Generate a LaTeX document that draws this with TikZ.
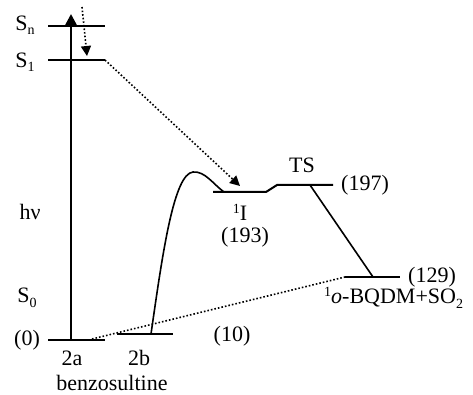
\documentclass[tikz,border=0pt]{standalone}
\usepackage{fontspec}
\setmainfont{Liberation Serif}
\usetikzlibrary{arrows.meta}
\newcommand\lowsub[1]{\raisebox{-0.45ex}{\fontsize{14}{14}\selectfont #1}}
\newcommand\highsup[1]{\raisebox{0.7ex}{\fontsize{14}{14}\selectfont #1}}
\begin{document}
\begin{tikzpicture}[x=1pt,y=-1pt,
  lvl/.style={line width=2pt},
  conn/.style={line width=1.6pt},
  dots/.style={dotted, line width=1.6pt},
  lbl/.style={font=\fontsize{22}{24}\selectfont, inner sep=0pt}]
\useasboundingbox (0,0) rectangle (473,395);
% level coordinates
\coordinate (snL) at (48,26);  \coordinate (snR) at (105,26);
\coordinate (s1L) at (48,60);  \coordinate (s1R) at (105,60);
\coordinate (aL) at (48,340);  \coordinate (aR) at (105,340);
\coordinate (bL) at (117,334); \coordinate (bR) at (173,334);
\coordinate (iL) at (213,192); \coordinate (iR) at (266,192);
\coordinate (tL) at (277,185); \coordinate (tR) at (333,185);
\coordinate (pL) at (345,277); \coordinate (pR) at (400,277);
\coordinate (vB) at (71,340);  \coordinate (vT) at (71,14);
\coordinate (bM) at (151,334);
\coordinate (iM) at (224,192);
\coordinate (tM) at (310,185);
\coordinate (pM) at (373,277);
\coordinate (aD) at (92,339);
\coordinate (dA) at (82,7);   \coordinate (dB) at (87,56);
\coordinate (arrTip) at (240,186);
% levels
\draw[lvl] (snL) -- (snR);
\draw[lvl] (s1L) -- (s1R);
\draw[lvl] (aL) -- (aR);
\draw[lvl] (bL) -- (bR);
\draw[lvl] (iL) -- (iR) -- (tL) -- (tR);
\draw[lvl] (pL) -- (pR);
% excitation arrow
\draw[line width=2.4pt, -{Triangle[length=11pt,width=11pt]}] (vB) -- (vT);
% internal conversion
\draw[dots, -{Triangle[length=10pt,width=10pt]}] (dA) -- (dB);
\draw[dots, -{Triangle[length=10pt,width=10pt]}] (s1R) -- (arrTip);
% ground-state path
\draw[dots] (aD) -- (pL);
% curve from 2b to 1I
\draw[conn] (bM) .. controls (163,250) and (174,174) .. (193,172)
  .. controls (205,171) and (213,184) .. (iM);
% TS to product
\draw[conn] (tM) -- (pM);
% labels
\node[lbl] (lSn) at (25,25) {S\lowsub{n}};
\node[lbl] (lS1) at (25,62) {S\lowsub{1}};
\node[lbl] (lhv) at (30,212) {hν};
\node[lbl] (lS0) at (27,298) {S\lowsub{0}};
\node[lbl] (l0) at (27,340) {(0)};
\node[lbl] (l10) at (232,336) {(10)};
\node[lbl, anchor=base] (l2a) at (72,365) {2a};
\node[lbl, anchor=base] (l2b) at (139,365) {2b};
\node[lbl, anchor=base] (lbz) at (112,390) {benzosultine};
\node[lbl] (lTS) at (302,165) {TS};
\node[lbl] (l197) at (365,185) {(197)};
\node[lbl] (lI) at (240,212) {\highsup{1}I};
\node[lbl] (l193) at (245,237) {(193)};
\node[lbl] (l129) at (432,277) {(129)};
\node[lbl, anchor=west] (lprod) at (324,298) {\highsup{1}\textit{o}-BQDM+SO\lowsub{2}};
\end{tikzpicture}
\end{document}
